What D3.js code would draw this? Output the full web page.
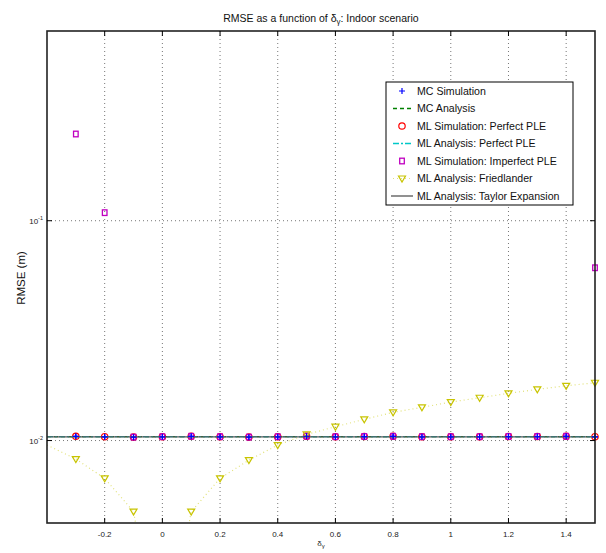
<!DOCTYPE html>
<html><head><meta charset="utf-8">
<script src="https://cdn.jsdelivr.net/npm/d3@7"></script>
<style>body{margin:0;background:#fff}svg{display:block;font-family:"Liberation Sans",Arial,sans-serif}</style>
</head><body><svg id="c" width="606" height="553"></svg>
<script>
// ---- data ----
const simX = [-0.3,-0.2,-0.1,0,0.1,0.2,0.3,0.4,0.5,0.6,0.7,0.8,0.9,1.0,1.1,1.2,1.3,1.4,1.5];
const anaX = [-0.4,-0.3,-0.2,-0.1,0,0.1,0.2,0.3,0.4,0.5,0.6,0.7,0.8,0.9,1.0,1.1,1.2,1.3,1.4,1.5];
const mcSim      = [0.01045,0.01040,0.01036,0.01040,0.01045,0.01040,0.01036,0.01040,0.01046,0.01040,0.01043,0.01045,0.01040,0.01040,0.01040,0.01043,0.01043,0.01045,0.01040];
const mlSimPerf  = [0.01046,0.01041,0.01037,0.01041,0.01046,0.01041,0.01037,0.01041,0.01047,0.01041,0.01044,0.01046,0.01041,0.01041,0.01041,0.01044,0.01044,0.01046,0.01041];
const mlSimImp   = [0.248,0.1088,0.01037,0.01041,0.01046,0.01041,0.01037,0.01041,0.01047,0.01041,0.01044,0.01046,0.01041,0.01041,0.01041,0.01044,0.01044,0.01046,0.0611];
const mcAna      = anaX.map(() => 0.01042);
const mlAnaPerf  = anaX.map(() => 0.01042);
const taylor     = anaX.map(() => 0.01040);
const friedlander= [0.00954,0.00824,0.00673,0.00475,0.0009,0.00475,0.00673,0.00815,0.00954,0.01067,0.01156,0.01249,0.01344,0.01416,0.01497,0.01566,0.01639,0.0171,0.01775,0.01832];
const xTicks = [-0.2,0,0.2,0.4,0.6,0.8,1,1.2,1.4];
const yTicks = [0.01,0.1];
const yTickExp = ["-2","-1"];
const legendNames = ["MC Simulation","MC Analysis","ML Simulation: Perfect PLE","ML Analysis: Perfect PLE","ML Simulation: Imperfect PLE","ML Analysis: Friedlander","ML Analysis: Taylor Expansion"];

// ---- layout ----
const L=47,R=595,T=31,B=523;
const svg=d3.select("#c");
const x=d3.scaleLinear().domain([-0.4,1.5]).range([L,R]);
const y=d3.scaleLog().domain([Math.pow(10,-2.375),Math.pow(10,-0.137)]).range([B,T]);

svg.append("rect").attr("x",L).attr("y",T).attr("width",R-L).attr("height",B-T).attr("fill","#fff");

// grid
const g=svg.append("g");
xTicks.forEach(t=>{
  g.append("line").attr("x1",x(t)).attr("x2",x(t)).attr("y1",T).attr("y2",B)
   .attr("stroke","#777").attr("stroke-width",1).attr("stroke-dasharray","1,3");
});
yTicks.forEach(t=>{
  g.append("line").attr("x1",L).attr("x2",R).attr("y1",y(t)).attr("y2",y(t))
   .attr("stroke","#777").attr("stroke-width",1).attr("stroke-dasharray","1,3");
});

svg.append("clipPath").attr("id","clip").append("rect").attr("x",L).attr("y",T).attr("width",R-L).attr("height",B-T);
const data=svg.append("g");
const lineGen=d3.line().x(d=>x(d[0])).y(d=>y(d[1]));
const inY=v=>v>=y.domain()[0]&&v<=y.domain()[1];

function drawLine(xs,ys,color,dash,width){
  data.append("path").datum(xs.map((v,i)=>[v,ys[i]])).attr("d",lineGen)
   .attr("fill","none").attr("stroke",color).attr("stroke-width",width)
   .attr("stroke-dasharray",dash).attr("clip-path","url(#clip)");
}
function plus(sel,cx,cy,color){
  sel.append("path").attr("d",`M${cx-3},${cy}H${cx+3}M${cx},${cy-3}V${cy+3}`).attr("stroke",color).attr("stroke-width",1.2).attr("fill","none");
}
function circ(sel,cx,cy,color){
  sel.append("circle").attr("cx",cx).attr("cy",cy).attr("r",3.2).attr("stroke",color).attr("stroke-width",1.2).attr("fill","none");
}
function square(sel,cx,cy,color){
  sel.append("rect").attr("x",cx-2.3).attr("y",cy-2.8).attr("width",4.6).attr("height",5.6).attr("stroke",color).attr("stroke-width",1.3).attr("fill","none");
}
function tri(sel,cx,cy,color){
  sel.append("path").attr("d",`M${cx-3.5},${cy-2.5}H${cx+3.5}L${cx},${cy+3.5}Z`).attr("stroke",color).attr("stroke-width",1.2).attr("fill","none");
}
function markers(xs,ys,fn,color){
  xs.forEach((v,i)=>{ if(inY(ys[i]) && v>-0.4) fn(data,x(v),y(ys[i]),color); });
}

const C={mc:"#0000ff",mca:"#008000",mlp:"#ff0000",mlpa:"#00c8c8",mli:"#c000c0",fr:"#c8c400",frl:"#e2e27a",ty:"#555555"};

markers(simX,mcSim,plus,C.mc);
drawLine(anaX,mcAna,C.mca,"4,3",1.3);
markers(simX,mlSimPerf,circ,C.mlp);
drawLine(anaX,mlAnaPerf,C.mlpa,"6,2,2,2",1.3);
markers(simX,mlSimImp,square,C.mli);
drawLine(anaX,friedlander,C.frl,"1,3",1.2);
markers(anaX,friedlander,tri,C.fr);
drawLine(anaX,taylor,C.ty,null,1.3);
markers(simX,mcSim,plus,C.mc);

// axes box & ticks
const ax=svg.append("g");
ax.append("rect").attr("x",L).attr("y",T).attr("width",R-L).attr("height",B-T).attr("fill","none").attr("stroke","#222").attr("stroke-width",1.6);
xTicks.forEach(t=>{
  ax.append("line").attr("x1",x(t)).attr("x2",x(t)).attr("y1",B).attr("y2",B-5).attr("stroke","#000");
  ax.append("line").attr("x1",x(t)).attr("x2",x(t)).attr("y1",T).attr("y2",T+5).attr("stroke","#000");
  ax.append("text").attr("x",x(t)).attr("y",B+14).attr("text-anchor","middle").attr("font-size",8).attr("fill","#222")
    .text(String(+t.toFixed(1)));
});
yTicks.forEach((t,i)=>{
  ax.append("line").attr("x1",L).attr("x2",L+5).attr("y1",y(t)).attr("y2",y(t)).attr("stroke","#000");
  ax.append("line").attr("x1",R).attr("x2",R-5).attr("y1",y(t)).attr("y2",y(t)).attr("stroke","#000");
  const tx=ax.append("text").attr("x",L-4).attr("y",y(t)+3).attr("text-anchor","end").attr("font-size",8).attr("fill","#222");
  tx.append("tspan").text("10");
  tx.append("tspan").attr("dy",-4).attr("font-size",5.5).text(yTickExp[i]);
});

// labels
const title=svg.append("text").attr("x",(L+R)/2).attr("y",22).attr("text-anchor","middle").attr("font-size",10.5).attr("fill","#111");
title.append("tspan").text("RMSE as a function of δ");
title.append("tspan").attr("font-size",8).attr("dy",1.5).text("γ");
title.append("tspan").attr("dy",-1.5).text(": Indoor scenario");

const xl=svg.append("text").attr("x",(L+R)/2).attr("y",546).attr("text-anchor","middle").attr("font-size",8).attr("fill","#222");
xl.append("tspan").text("δ");
xl.append("tspan").attr("font-size",6).attr("dy",1.5).text("γ");

svg.append("text").attr("transform",`translate(25,278) rotate(-90)`).attr("text-anchor","middle").attr("font-size",11.5).attr("fill","#111").text("RMSE  (m)");

// legend
const lg=svg.append("g");
lg.append("rect").attr("x",386).attr("y",82).attr("width",187).attr("height",123).attr("fill","#fff").attr("stroke","#000").attr("stroke-width",1);
const rowY=i=>91+i*17.5;
const sx0=393,sx1=413,mx=402;
legendNames.forEach((n,i)=>{
  const yy=rowY(i);
  lg.append("text").attr("x",417).attr("y",yy+3.7).attr("font-size",10.6).attr("fill","#111").text(n);
});
plus(lg,mx,rowY(0),C.mc);
lg.append("line").attr("x1",sx0).attr("x2",sx1).attr("y1",rowY(1)).attr("y2",rowY(1)).attr("stroke",C.mca).attr("stroke-width",1.3).attr("stroke-dasharray","4,3");
circ(lg,mx,rowY(2),C.mlp);
lg.append("line").attr("x1",sx0).attr("x2",sx1).attr("y1",rowY(3)).attr("y2",rowY(3)).attr("stroke",C.mlpa).attr("stroke-width",1.3).attr("stroke-dasharray","6,2,2,2");
square(lg,mx,rowY(4),C.mli);
lg.append("line").attr("x1",sx0).attr("x2",sx1).attr("y1",rowY(5)).attr("y2",rowY(5)).attr("stroke",C.frl).attr("stroke-width",1.2).attr("stroke-dasharray","1,3");
tri(lg,mx,rowY(5),C.fr);
lg.append("line").attr("x1",sx0-2).attr("x2",sx1).attr("y1",rowY(6)).attr("y2",rowY(6)).attr("stroke",C.ty).attr("stroke-width",1.3);
</script></body></html>
